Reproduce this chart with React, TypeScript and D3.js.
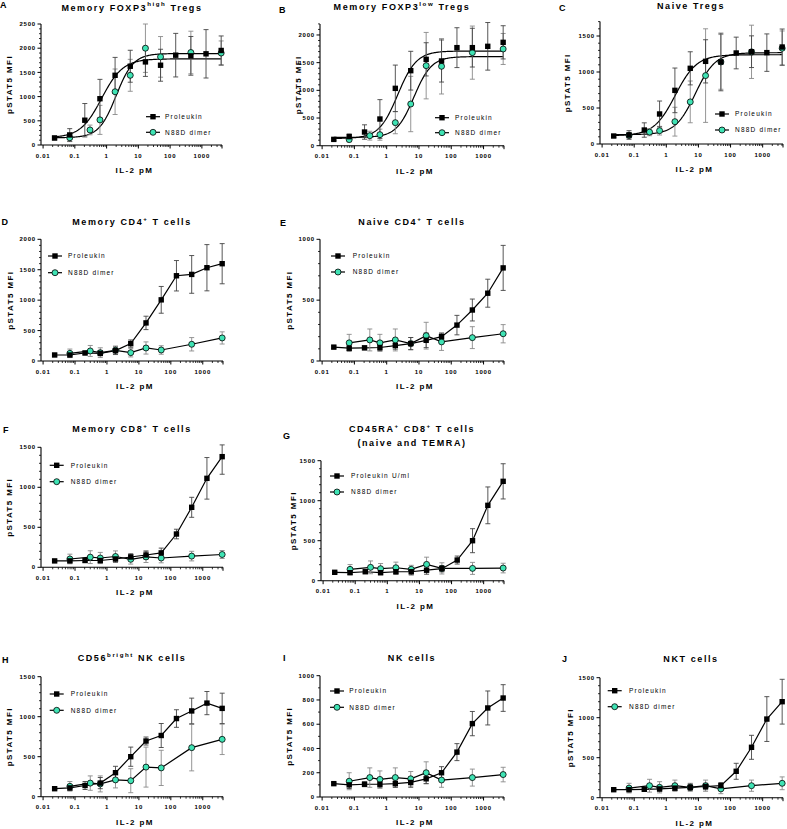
import React from "react";
import * as d3 from "d3";

const FONT = "'Liberation Sans', Arial, sans-serif";
const TEAL = "#3fe3b4";

// IL-2 concentrations (pM), 3-fold series
const conc = [0.023, 0.069, 0.206, 0.617, 1.85, 5.56, 16.7, 50, 150, 450, 1350, 4050];
const concDimer = [0.069, 0.3, 0.617, 1.85, 5.56, 16.7, 50, 450, 4050];
const xTicks = [0.01, 0.1, 1, 10, 100, 1000];

// A  Memory FOXP3 high Tregs
const aPro = [145, 208, 512, 956, 1440, 1627, 1717, 1648, 1856, 1842, 1884, 1953];
const aProSd = [40, 130, 345, 400, 370, 330, 300, 330, 450, 400, 500, 300];
const aDim = [150, 311, 519, 1100, 1440, 2000, 1821, 1911, 1900];
const aDimSd = [80, 100, 300, 470, 330, 500, 420, 440, 250];
const aFitPro = [150, 1780, 0.7, 1.3];
const aFitDim = [150, 1890, 2.0, 1.6];

// B  Memory FOXP3 low Tregs
const bPro = [114, 163, 247, 482, 1036, 1355, 1560, 1530, 1771, 1771, 1795, 1867];
const bProSd = [20, 50, 130, 350, 420, 350, 300, 380, 360, 350, 430, 300];
const bDim = [110, 181, 199, 416, 753, 1446, 1434, 1681, 1747];
const bDimSd = [40, 80, 100, 200, 500, 600, 500, 480, 280];
const bFitPro = [130, 1710, 2.2, 1.5];
const bFitDim = [150, 1610, 7, 1.6];

// C  Naive Tregs
const cPro = [111, 125, 194, 417, 745, 1051, 1148, 1139, 1264, 1282, 1269, 1347];
const cProSd = [20, 60, 100, 180, 310, 230, 300, 400, 220, 220, 260, 250];
const cDim = [120, 165, 185, 310, 585, 950, 1140, 1280, 1330];
const cDimSd = [40, 50, 60, 200, 290, 650, 380, 370, 240];
const cFitPro = [115, 1240, 1.9, 1.3];
const cFitDim = [130, 1268, 8, 1.4];

// D  Memory CD4+ T cells
const dPro = [99, 99, 132, 126, 170, 286, 626, 1005, 1401, 1423, 1533, 1599];
const dProSd = [20, 30, 30, 40, 60, 60, 110, 220, 250, 310, 380, 330];
const dDim = [126, 165, 137, 176, 137, 214, 181, 275, 379];
const dDimSd = [70, 90, 80, 70, 70, 100, 70, 110, 100];

// E  Naive CD4+ T cells
const ePro = [114, 105, 108, 111, 127, 143, 170, 200, 295, 419, 557, 765];
const eProSd = [10, 20, 15, 25, 30, 50, 60, 30, 80, 90, 115, 185];
const eDim = [149, 173, 149, 173, 143, 208, 157, 192, 224];
const eDimSd = [70, 90, 70, 90, 50, 110, 70, 90, 75];

// F  Memory CD8+ T cells
const fPro = [80, 80, 85, 85, 104, 129, 154, 180, 416, 750, 1112, 1383];
const fProSd = [10, 20, 20, 30, 40, 40, 50, 60, 60, 125, 260, 220];
const fDim = [104, 127, 116, 135, 100, 130, 116, 140, 160];
const fDimSd = [60, 80, 70, 70, 60, 70, 60, 60, 50];

// G  CD45RA+ CD8+ T cells
const gPro = [105, 100, 112, 100, 112, 112, 131, 150, 258, 500, 942, 1242];
const gProSd = [10, 20, 20, 25, 30, 40, 50, 40, 50, 150, 230, 220];
const gDim = [142, 167, 150, 162, 142, 204, 154, 154, 158];
const gDimSd = [60, 80, 65, 70, 50, 90, 70, 75, 60];

// H  CD56 bright NK cells
const hPro = [100, 110, 140, 170, 300, 500, 696, 765, 977, 1072, 1170, 1104];
const hProSd = [10, 30, 50, 70, 80, 120, 50, 150, 110, 160, 145, 190];
const hDim = [130, 170, 160, 210, 200, 370, 360, 613, 717];
const hDimSd = [60, 90, 100, 100, 150, 250, 220, 290, 190];

// I  NK cells
const iPro = [110, 100, 105, 105, 110, 120, 150, 200, 370, 605, 734, 816];
const iProSd = [10, 30, 20, 30, 30, 40, 40, 50, 70, 100, 140, 110];
const iDim = [130, 160, 145, 160, 150, 200, 140, 160, 185];
const iDimSd = [70, 80, 70, 80, 60, 90, 60, 70, 60];

// J  NKT cells
const jPro = [100, 100, 105, 110, 120, 130, 140, 150, 330, 630, 983, 1200];
const jProSd = [10, 20, 20, 30, 30, 40, 40, 40, 100, 150, 280, 280];
const jDim = [120, 150, 130, 150, 130, 150, 110, 150, 180];
const jDimSd = [60, 80, 70, 70, 50, 70, 60, 70, 80];

type Seg = { t: string; sup?: boolean };

type Panel = {
  letter: string;
  letterX: number;
  letterY: number;
  title: Seg[][];
  titleX: number;
  titleY: number;
  x0: number;
  x1: number;
  y0: number;
  yTopPx: number;
  yMax: number;
  yStep: number;
  yMinor: number;
  labelX: number;
  legX: number;
  legTextX: number;
  legY: number[];
  pro: number[];
  proSd: number[];
  dim: number[];
  dimSd: number[];
  fitPro?: number[];
  fitDim?: number[];
  proName: string;
};

const panels: Panel[] = [
  {
    letter: "A", letterX: 0, letterY: 8,
    title: [[{ t: "Memory FOXP3" }, { t: "high", sup: true }, { t: " Tregs" }]],
    titleX: 132, titleY: 10.5,
    x0: 41, x1: 222, y0: 145, yTopPx: 24, yMax: 2500, yStep: 500, yMinor: 100,
    labelX: 9, legX: 153, legTextX: 165, legY: [116.7, 132.3],
    pro: aPro, proSd: aProSd, dim: aDim, dimSd: aDimSd, fitPro: aFitPro, fitDim: aFitDim,
    proName: "Proleukin",
  },
  {
    letter: "B", letterX: 279, letterY: 13,
    title: [[{ t: "Memory FOXP3" }, { t: "low", sup: true }, { t: " Tregs" }]],
    titleX: 402, titleY: 10,
    x0: 320, x1: 504, y0: 145.7, yTopPx: 23.9, yMax: 2200, yStep: 500, yMinor: 100,
    labelX: 298, legX: 442, legTextX: 455, legY: [117.7, 132.7],
    pro: bPro, proSd: bProSd, dim: bDim, dimSd: bDimSd, fitPro: bFitPro, fitDim: bFitDim,
    proName: "Proleukin",
  },
  {
    letter: "C", letterX: 559, letterY: 10.7,
    title: [[{ t: "Naive Tregs" }]],
    titleX: 691, titleY: 8.5,
    x0: 600, x1: 783, y0: 144, yTopPx: 21.6, yMax: 1700, yStep: 500, yMinor: 100,
    labelX: 567, legX: 722, legTextX: 735, legY: [114, 130],
    pro: cPro, proSd: cProSd, dim: cDim, dimSd: cDimSd, fitPro: cFitPro, fitDim: cFitDim,
    proName: "Proleukin",
  },
  {
    letter: "D", letterX: 1.5, letterY: 224.5,
    title: [[{ t: "Memory CD4" }, { t: "+", sup: true }, { t: " T cells" }]],
    titleX: 132, titleY: 225,
    x0: 41, x1: 223, y0: 361, yTopPx: 239.3, yMax: 2000, yStep: 500, yMinor: 100,
    labelX: 10, legX: 55, legTextX: 68, legY: [256, 272.7],
    pro: dPro, proSd: dProSd, dim: dDim, dimSd: dDimSd,
    proName: "Proleukin",
  },
  {
    letter: "E", letterX: 280, letterY: 226,
    title: [[{ t: "Naive CD4" }, { t: "+", sup: true }, { t: " T cells" }]],
    titleX: 412, titleY: 225,
    x0: 320, x1: 504, y0: 361, yTopPx: 239.3, yMax: 1000, yStep: 500, yMinor: 100,
    labelX: 289.5, legX: 338, legTextX: 352.7, legY: [256, 272],
    pro: ePro, proSd: eProSd, dim: eDim, dimSd: eDimSd,
    proName: "Proleukin",
  },
  {
    letter: "F", letterX: 3, letterY: 432.7,
    title: [[{ t: "Memory CD8" }, { t: "+", sup: true }, { t: " T cells" }]],
    titleX: 132, titleY: 432,
    x0: 41, x1: 223, y0: 567.3, yTopPx: 447.3, yMax: 1500, yStep: 500, yMinor: 100,
    labelX: 9.5, legX: 56.7, legTextX: 70.7, legY: [465.3, 481.7],
    pro: fPro, proSd: fProSd, dim: fDim, dimSd: fDimSd,
    proName: "Proleukin",
  },
  {
    letter: "G", letterX: 283, letterY: 439.3,
    title: [
      [{ t: "CD45RA" }, { t: "+", sup: true }, { t: " CD8" }, { t: "+", sup: true }, { t: " T cells" }],
      [{ t: "(naive and TEMRA)" }],
    ],
    titleX: 412, titleY: 432.3,
    x0: 321, x1: 504, y0: 580.7, yTopPx: 460.7, yMax: 1500, yStep: 500, yMinor: 100,
    labelX: 293, legX: 337, legTextX: 351, legY: [476, 492],
    pro: gPro, proSd: gProSd, dim: gDim, dimSd: gDimSd,
    proName: "Proleukin U/ml",
  },
  {
    letter: "H", letterX: 2, letterY: 663,
    title: [[{ t: "CD56" }, { t: "bright", sup: true }, { t: " NK cells" }]],
    titleX: 132, titleY: 661,
    x0: 41, x1: 223, y0: 796.7, yTopPx: 676.7, yMax: 1500, yStep: 500, yMinor: 100,
    labelX: 9, legX: 56.7, legTextX: 70.7, legY: [694, 710.3],
    pro: hPro, proSd: hProSd, dim: hDim, dimSd: hDimSd,
    proName: "Proleukin",
  },
  {
    letter: "I", letterX: 283, letterY: 661,
    title: [[{ t: "NK cells" }]],
    titleX: 412, titleY: 660.7,
    x0: 320, x1: 504, y0: 797, yTopPx: 675.7, yMax: 1000, yStep: 200, yMinor: 100,
    labelX: 289, legX: 337, legTextX: 349.3, legY: [691, 707.3],
    pro: iPro, proSd: iProSd, dim: iDim, dimSd: iDimSd,
    proName: "Proleukin",
  },
  {
    letter: "J", letterX: 562, letterY: 661.7,
    title: [[{ t: "NKT cells" }]],
    titleX: 691, titleY: 662.3,
    x0: 600, x1: 783, y0: 797.7, yTopPx: 677.7, yMax: 1500, yStep: 500, yMinor: 100,
    labelX: 570, legX: 614.7, legTextX: 629, legY: [690.7, 706.7],
    pro: jPro, proSd: jProSd, dim: jDim, dimSd: jDimSd,
    proName: "Proleukin",
  },
];

const fourPL = (x: number, p: number[]) => p[0] + (p[1] - p[0]) / (1 + Math.pow(p[2] / x, p[3]));

const renderSegs = (segs: Seg[], size: number) => {
  const out: React.ReactNode[] = [];
  let raised = false;
  segs.forEach((s, i) => {
    let dy = 0;
    if (s.sup && !raised) { dy = -size * 0.45; raised = true; }
    else if (!s.sup && raised) { dy = size * 0.45; raised = false; }
    out.push(
      <tspan key={i} dy={dy} fontSize={s.sup ? size * 0.68 : size}>{s.t}</tspan>
    );
  });
  return out;
};

const Square = ({ x, y }: { x: number; y: number }) => (
  <rect x={x - 2.7} y={y - 2.7} width={5.4} height={5.4} fill="#000" />
);
const Dot = ({ x, y }: { x: number; y: number }) => (
  <circle cx={x} cy={y} r={3} fill={TEAL} stroke="#000" strokeWidth={0.8} />
);

const PanelView = ({ p }: { p: Panel }) => {
  const x = d3.scaleLog().domain([0.0086, 4300]).range([p.x0, p.x1]);
  const y = d3.scaleLinear().domain([0, p.yMax]).range([p.y0, p.yTopPx]);

  const majorY = d3.range(0, p.yMax + 1, p.yStep);
  const minorY = d3.range(0, p.yMax + 1, p.yMinor).filter((v) => v % p.yStep !== 0);
  const minorX: number[] = [];
  for (let e = -2; e <= 3; e++) {
    for (let m = 2; m <= 9; m++) {
      const v = m * Math.pow(10, e);
      if (v < 4300) minorX.push(v);
    }
  }

  const proPts = conc.map((c, i) => ({ c, v: p.pro[i], sd: p.proSd[i] }));
  const dimPts = concDimer.map((c, i) => ({ c, v: p.dim[i], sd: p.dimSd[i] }));

  const line = d3.line<{ c: number; v: number }>().x((d) => x(d.c)).y((d) => y(d.v));
  const curve = (params: number[]) => {
    const xs = d3.range(0, 201).map((k) => Math.pow(10, Math.log10(0.023) + (k / 200) * (Math.log10(4050) - Math.log10(0.023))));
    return line(xs.map((c) => ({ c, v: fourPL(c, params) })));
  };

  const errBar = (d: { c: number; v: number; sd: number }, color: string, key: string) => {
    const cx = x(d.c);
    const top = y(Math.min(d.v + d.sd, p.yMax * 1.02));
    const bot = y(Math.max(d.v - d.sd, 0));
    return (
      <g key={key} stroke={color} strokeWidth={0.9}>
        <line x1={cx} x2={cx} y1={top} y2={bot} />
        <line x1={cx - 2.5} x2={cx + 2.5} y1={top} y2={top} />
        <line x1={cx - 2.5} x2={cx + 2.5} y1={bot} y2={bot} />
      </g>
    );
  };

  const titleSize = 9;
  return (
    <g fontFamily={FONT}>
      {/* y axis */}
      <line x1={p.x0} x2={p.x0} y1={p.y0} y2={p.yTopPx} stroke="#000" strokeWidth={1.1} />
      {majorY.map((v) => (
        <g key={"my" + v}>
          <line x1={p.x0 - 3.5} x2={p.x0} y1={y(v)} y2={y(v)} stroke="#000" strokeWidth={1} />
          <text x={p.x0 - 5} y={y(v)} dy="0.35em" textAnchor="end" fontSize={6} fontWeight="bold" letterSpacing={0.8}>
            {v}
          </text>
        </g>
      ))}
      {minorY.map((v) => (
        <line key={"ny" + v} x1={p.x0 - 2} x2={p.x0} y1={y(v)} y2={y(v)} stroke="#000" strokeWidth={0.8} />
      ))}
      {/* x axis */}
      <line x1={p.x0} x2={p.x1} y1={p.y0} y2={p.y0} stroke="#000" strokeWidth={1.1} />
      {xTicks.map((v) => (
        <g key={"mx" + v}>
          <line x1={x(v)} x2={x(v)} y1={p.y0} y2={p.y0 + 3.5} stroke="#000" strokeWidth={1} />
          <text x={x(v)} y={p.y0 + 12.5} textAnchor="middle" fontSize={6} fontWeight="bold" letterSpacing={0.8}>
            {v}
          </text>
        </g>
      ))}
      {minorX.map((v) => (
        <line key={"nx" + v} x1={x(v)} x2={x(v)} y1={p.y0} y2={p.y0 + 2} stroke="#000" strokeWidth={0.8} />
      ))}
      <line x1={p.x1} x2={p.x1} y1={p.y0} y2={p.y0 + 3.5} stroke="#000" strokeWidth={1} />
      {/* axis titles */}
      <text x={(p.x0 + p.x1) / 2 + 3} y={p.y0 + 28} textAnchor="middle" fontSize={8} fontWeight="bold" letterSpacing={1.4}>
        IL-2 pM
      </text>
      <text
        transform={`translate(${p.labelX},${(p.y0 + p.yTopPx) / 2}) rotate(-90)`}
        dy="0.35em" textAnchor="middle" fontSize={8} fontWeight="bold" letterSpacing={1.4}
      >
        pSTAT5 MFI
      </text>
      {/* panel title + letter */}
      {p.title.map((segs, li) => (
        <text key={"t" + li} x={p.titleX} y={p.titleY + li * 13.7} textAnchor="middle" fontSize={titleSize} fontWeight="bold" letterSpacing={1.6}>
          {renderSegs(segs, titleSize)}
        </text>
      ))}
      <text x={p.letterX} y={p.letterY} fontSize={9} fontWeight="bold">
        {p.letter}
      </text>
      {/* curves / lines */}
      {p.fitPro ? (
        <>
          <path d={curve(p.fitPro) || ""} fill="none" stroke="#000" strokeWidth={1.2} />
          <path d={curve(p.fitDim!) || ""} fill="none" stroke="#000" strokeWidth={1.2} />
        </>
      ) : (
        <>
          <path d={line(proPts) || ""} fill="none" stroke="#000" strokeWidth={1.2} />
          <path d={line(dimPts) || ""} fill="none" stroke="#000" strokeWidth={1.2} />
        </>
      )}
      {/* error bars */}
      {dimPts.map((d, i) => errBar(d, "#8a8a8a", "ed" + i))}
      {proPts.map((d, i) => errBar(d, "#444", "ep" + i))}
      {/* markers */}
      {dimPts.map((d, i) => (
        <Dot key={"d" + i} x={x(d.c)} y={y(d.v)} />
      ))}
      {proPts.map((d, i) => (
        <Square key={"p" + i} x={x(d.c)} y={y(d.v)} />
      ))}
      {/* legend */}
      <line x1={p.legX - 7} x2={p.legX + 7} y1={p.legY[0]} y2={p.legY[0]} stroke="#000" strokeWidth={1.2} />
      <Square x={p.legX} y={p.legY[0]} />
      <text x={p.legTextX} y={p.legY[0]} dy="0.35em" fontSize={6.5} letterSpacing={1.2}>
        {p.proName}
      </text>
      <line x1={p.legX - 7} x2={p.legX + 7} y1={p.legY[1]} y2={p.legY[1]} stroke="#000" strokeWidth={1.2} />
      <Dot x={p.legX} y={p.legY[1]} />
      <text x={p.legTextX} y={p.legY[1]} dy="0.35em" fontSize={6.5} letterSpacing={1.2}>
        N88D dimer
      </text>
    </g>
  );
};

export default function App() {
  return (
    <svg
      width={787}
      height={829}
      style={{ position: "absolute", left: 0, top: 0, background: "#fff" }}
    >
      <rect width={787} height={829} fill="#fff" />
      {panels.map((p) => (
        <PanelView key={p.letter} p={p} />
      ))}
    </svg>
  );
}
